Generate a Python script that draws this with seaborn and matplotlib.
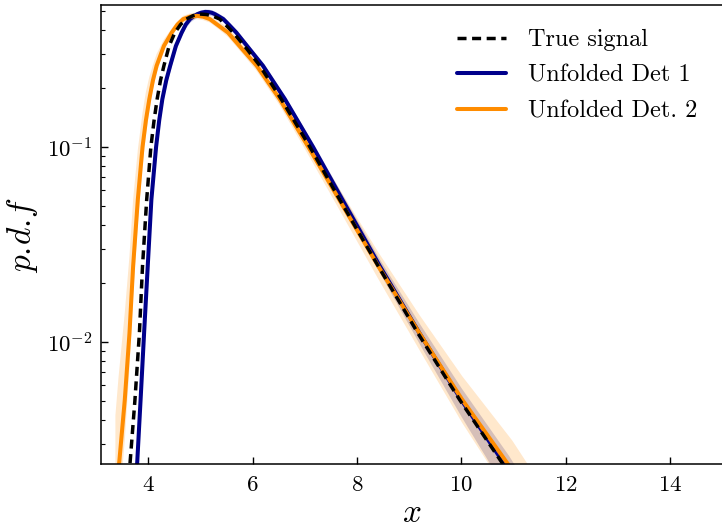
import seaborn as sns
import matplotlib.pyplot as plt

# curves (x, p.d.f value); first/last points sit just past the axes edge
true_x = [3.60, 3.64, 3.745, 3.83, 3.89, 3.97, 4.05, 4.11, 4.17, 4.235, 4.30, 4.40, 4.51, 4.62, 4.73, 4.86, 4.99,
          5.12, 5.25, 5.37, 5.50, 5.63, 5.90, 6.14, 6.55, 7.10, 7.67, 8.41, 9.17, 9.97, 10.88, 11.30]
true_y = [0.0017, 0.0022, 0.00506, 0.0111, 0.0245, 0.0538, 0.100, 0.136, 0.176, 0.220, 0.261, 0.330, 0.386, 0.425,
          0.453, 0.472, 0.481, 0.478, 0.468, 0.453, 0.419, 0.386, 0.316, 0.261, 0.176, 0.100, 0.0538, 0.0245,
          0.0111, 0.00506, 0.0022, 0.00145]

det1_x = [3.74, 3.78, 3.853, 3.92, 3.99, 4.06, 4.15, 4.21, 4.27, 4.345, 4.42, 4.53, 4.64, 4.72, 4.80, 4.87, 4.94,
          5.01, 5.09, 5.16, 5.22, 5.28, 5.34, 5.44, 5.56, 5.69, 5.95, 6.20, 6.62, 7.16, 7.72, 8.44, 9.20, 10.0,
          10.91, 11.33]
det1_y = [0.0017, 0.0022, 0.00506, 0.0111, 0.0245, 0.0538, 0.100, 0.137, 0.176, 0.220, 0.261, 0.330, 0.386, 0.425,
          0.453, 0.468, 0.480, 0.488, 0.493, 0.492, 0.488, 0.480, 0.470, 0.453, 0.420, 0.386, 0.316, 0.261, 0.176,
          0.100, 0.0538, 0.0245, 0.0111, 0.00506, 0.0022, 0.00145]
# band edges as fractions of the curve
det1_lo = [0.85, 0.85, 0.86, 0.87, 0.88, 0.9, 0.92, 0.93, 0.94, 0.945, 0.95, 0.96, 0.965, 0.965] + [0.965] * 13 + \
          [0.96, 0.96, 0.95, 0.94, 0.92, 0.88, 0.82, 0.75, 0.72]
det1_hi = [1.17, 1.17, 1.16, 1.15, 1.14, 1.12, 1.1, 1.085, 1.07, 1.06, 1.05, 1.04, 1.035, 1.035] + [1.035] * 13 + \
          [1.035, 1.035, 1.045, 1.06, 1.08, 1.12, 1.15, 1.19, 1.2]

det2_x = [3.37, 3.43, 3.55, 3.64, 3.71, 3.80, 3.89, 3.955, 4.02, 4.09, 4.16, 4.30, 4.45, 4.56, 4.67, 4.80, 4.93,
          5.05, 5.18, 5.35, 5.53, 5.80, 6.08, 6.52, 7.07, 7.66, 8.41, 9.20, 10.02, 10.98, 11.40]
det2_y = [0.0014, 0.0022, 0.00506, 0.0111, 0.0245, 0.0538, 0.100, 0.137, 0.176, 0.220, 0.261, 0.330, 0.386, 0.425,
          0.453, 0.466, 0.471, 0.466, 0.453, 0.419, 0.386, 0.318, 0.261, 0.176, 0.100, 0.0538, 0.0245, 0.0111,
          0.00506, 0.0022, 0.00145]
det2_lo = [0.6, 0.6, 0.62, 0.66, 0.7, 0.75, 0.8, 0.84, 0.87, 0.9, 0.92, 0.95, 0.96, 0.96, 0.96, 0.96, 0.96,
           0.96, 0.96, 0.96, 0.95, 0.95, 0.94, 0.93, 0.91, 0.89, 0.86, 0.82, 0.76, 0.7, 0.68]
det2_hi = [3.0, 3.0, 2.8, 2.5, 2.2, 1.8, 1.5, 1.4, 1.3, 1.2, 1.15, 1.08, 1.05, 1.04, 1.04, 1.04, 1.04,
           1.04, 1.04, 1.05, 1.06, 1.07, 1.08, 1.10, 1.12, 1.14, 1.18, 1.24, 1.32, 1.42, 1.45]

sns.set_style('ticks')
plt.rcParams.update({
    'font.family': 'serif',
    'font.serif': ['cmr10'],
    'mathtext.fontset': 'cm',
    'axes.formatter.use_mathtext': True,
    'axes.linewidth': 1.1,
    'axes.edgecolor': 'black',
    'axes.labelcolor': 'black',
    'text.color': 'black',
    'xtick.color': 'black',
    'ytick.color': 'black',
})

fig = plt.figure(figsize=(7.22, 5.27), dpi=100)
ax = fig.add_axes([101 / 722, 63 / 527, 621 / 722, 459 / 527])

ax.fill_between(det1_x, [y * f for y, f in zip(det1_y, det1_lo)], [y * f for y, f in zip(det1_y, det1_hi)],
                color='darkblue', alpha=0.2, lw=0)
ax.fill_between(det2_x, [y * f for y, f in zip(det2_y, det2_lo)], [y * f for y, f in zip(det2_y, det2_hi)],
                color='darkorange', alpha=0.2, lw=0)

sns.lineplot(x=det1_x, y=det1_y, color='darkblue', lw=2.9, estimator=None, ax=ax)
sns.lineplot(x=det2_x, y=det2_y, color='darkorange', lw=2.9, estimator=None, ax=ax)
sns.lineplot(x=true_x, y=true_y, color='black', lw=2.5, ls=(0, (2.6, 1.6)), estimator=None, ax=ax)

lines = ax.get_lines()
ax.legend([lines[2], lines[0], lines[1]], ['True signal', 'Unfolded Det 1', 'Unfolded Det. 2'],
          loc='upper right', frameon=False, fontsize=17.5, handlelength=2.05, handletextpad=0.9,
          labelspacing=0.55, borderaxespad=0.6)

ax.set_yscale('log')
ax.set_xlim(3.094, 15)
ax.set_ylim(0.00237, 0.535)
ax.set_xticks(range(4, 15, 2))
ax.spines['right'].set_visible(False)
ax.tick_params(which='both', direction='in', top=False, right=False)
ax.tick_params(axis='x', which='major', length=5, width=1, pad=8, labelsize=16.5)
ax.tick_params(axis='y', which='major', length=5, width=1, pad=6, labelsize=16.5)
ax.tick_params(axis='y', which='minor', length=3, width=0.8)

ax.set_xlabel('$x$', fontsize=24, labelpad=3)
ax.set_ylabel(r'$p.\!d.\!f$', fontsize=24, labelpad=5)

fig.savefig('out.png', dpi=100)
